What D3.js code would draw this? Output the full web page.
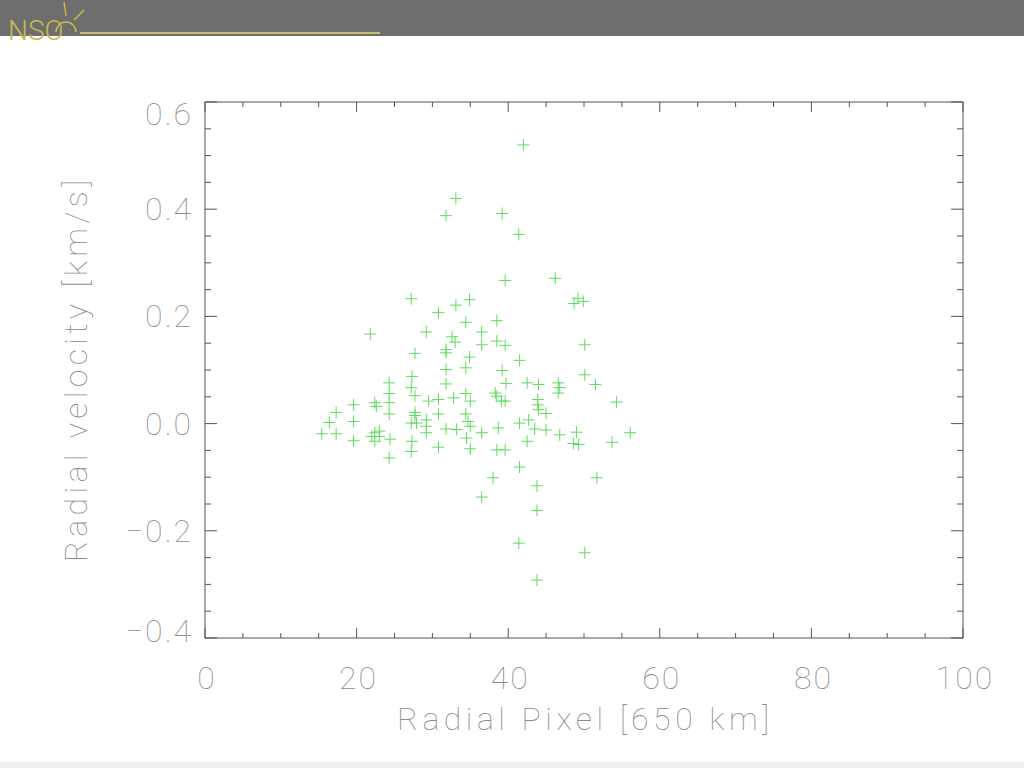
<!DOCTYPE html>
<html><head><meta charset="utf-8">
<script src="https://cdn.jsdelivr.net/npm/d3@7"></script>
<style>body{margin:0;background:#fff}svg{display:block}</style>
</head><body>
<svg id="c" width="1024" height="768"></svg>
<script>
// Data
const radialPixel = [42.0,33.1,31.8,39.2,41.4,39.6,46.2,27.2,34.9,33.1,30.8,34.4,21.8,29.2,32.6,33.0,27.7,31.8,31.8,34.9,34.4,31.8,27.3,
  49.2,49.9,48.7,38.5,36.5,36.5,38.5,39.6,50.1,41.5,39.2,50.1,
  24.3,27.2,31.8,24.3,27.7,29.5,30.8,32.8,34.4,35.0,19.6,22.4,22.6,24.3,17.3,24.3,27.7,27.7,30.8,34.4,16.4,19.6,27.2,27.9,29.2,29.2,34.7,35.0,31.8,33.2,
  15.4,17.3,22.4,23.0,22.0,23.0,24.4,29.2,34.5,19.6,22.4,27.3,30.8,35.0,27.2,24.3,
  39.7,42.5,44.0,46.6,46.8,46.6,51.5,38.3,38.5,39.1,39.6,43.9,43.9,54.3,45.0,44.0,41.5,42.7,38.7,43.5,45.0,36.5,46.8,49.0,56.1,42.5,48.6,49.3,53.7,38.5,39.6,41.5,
  38.0,43.8,51.7,36.5,43.8,41.4,50.1,43.8];
const radialVelocity = [0.52,0.42,0.388,0.392,0.353,0.267,0.271,0.233,0.231,0.221,0.207,0.189,0.167,0.171,0.162,0.152,0.131,0.138,0.132,0.124,0.104,0.101,0.088,
  0.234,0.228,0.224,0.192,0.171,0.147,0.154,0.146,0.147,0.118,0.099,0.091,
  0.076,0.067,0.074,0.056,0.052,0.042,0.045,0.048,0.056,0.042,0.035,0.039,0.032,0.039,0.021,0.018,0.021,0.015,0.018,0.018,0.002,0.004,0.001,0.001,0.007,-0.005,0.004,-0.005,-0.010,-0.011,
  -0.019,-0.019,-0.017,-0.014,-0.024,-0.024,-0.029,-0.017,-0.027,-0.032,-0.033,-0.033,-0.044,-0.047,-0.052,-0.064,
  0.075,0.076,0.073,0.076,0.067,0.057,0.073,0.057,0.051,0.042,0.042,0.045,0.035,0.040,0.019,0.026,0.001,0.007,-0.008,-0.010,-0.012,-0.017,-0.021,-0.016,-0.017,-0.033,-0.037,-0.039,-0.035,-0.049,-0.049,-0.081,
  -0.101,-0.116,-0.101,-0.137,-0.162,-0.223,-0.241,-0.292];
const xTicks = [0,20,40,60,80,100];
const yTicks = [-0.4,-0.2,0.0,0.2,0.4,0.6];
const xTitle = "Radial Pixel [650 km]";
const yTitle = "Radial velocity [km/s]";

const svg = d3.select("#c");
const L=205,R=963,T=102,B=638;
const x = d3.scaleLinear().domain([0,100]).range([L,R]);
const y = d3.scaleLinear().domain([-0.4,0.6]).range([B,T]);
const axisCol="#555", textCol="#8c8c8c";
const font="Roboto, 'DejaVu Sans', sans-serif";

// header band
svg.append("rect").attr("x",0).attr("y",0).attr("width",1024).attr("height",36).attr("fill","#6e6e6e");
svg.append("line").attr("x1",80).attr("x2",380).attr("y1",33).attr("y2",33).attr("stroke","#c8c070").attr("stroke-width",2);
svg.append("text").attr("x",8).attr("y",40).attr("fill","#c8b850").attr("font-family",font).attr("font-size",28).attr("font-weight",300).text("NSO");
svg.append("path").attr("d","M56,32 A10,10 0 1,1 76,32").attr("fill","none").attr("stroke","#c8b850").attr("stroke-width",1.5);
svg.append("path").attr("d","M64,2 L66,16 M84,10 L74,20").attr("fill","none").attr("stroke","#c8b850").attr("stroke-width",1.5);
svg.append("rect").attr("x",0).attr("y",762).attr("width",1024).attr("height",6).attr("fill","#f0f0f0");

// frame
svg.append("rect").attr("x",L).attr("y",T).attr("width",R-L).attr("height",B-T).attr("fill","none").attr("stroke",axisCol).attr("stroke-width",1);

// ticks (IDL style, inside, all four sides)
const xMinor = d3.range(0,101,5), yMinor = d3.range(-8,13).map(d=>d*0.05);
const tk = svg.append("g").attr("stroke",axisCol).attr("stroke-width",1);
xMinor.forEach(v=>{const len = xTicks.includes(v)?10:5;
  tk.append("line").attr("x1",x(v)).attr("x2",x(v)).attr("y1",B).attr("y2",B-len);
  tk.append("line").attr("x1",x(v)).attr("x2",x(v)).attr("y1",T).attr("y2",T+len);});
yMinor.forEach(v=>{const major = yTicks.some(t=>Math.abs(t-v)<1e-6); const len = major?12:6;
  tk.append("line").attr("x1",L).attr("x2",L+len).attr("y1",y(v)).attr("y2",y(v));
  tk.append("line").attr("x1",R).attr("x2",R-len).attr("y1",y(v)).attr("y2",y(v));});

// axis labels
const fmtY = v => (v<0?"\u2212":"") + Math.abs(v).toFixed(1);
svg.append("g").selectAll("text").data(xTicks).join("text")
  .attr("x",d=>x(d)+2).attr("y",689).attr("text-anchor","middle")
  .attr("font-family",font).attr("font-weight",100).attr("font-size",32).attr("fill",textCol).attr("letter-spacing",2).text(d=>d);
svg.append("g").selectAll("text").data(yTicks).join("text")
  .attr("x",193).attr("y",d=>y(d)+11+(d>0.55?12:0)+(d<-0.35?-7:0)).attr("text-anchor","end")
  .attr("font-family",font).attr("font-weight",100).attr("font-size",32).attr("fill",textCol).attr("letter-spacing",2).text(fmtY);

svg.append("text").attr("x",583).attr("y",730).attr("text-anchor","middle")
  .attr("font-family",font).attr("font-weight",100).attr("font-size",32).attr("fill",textCol)
  .attr("textLength",372).attr("lengthAdjust","spacing").text(xTitle);
svg.append("text").attr("transform","translate(87,371) rotate(-90)").attr("text-anchor","middle")
  .attr("font-family",font).attr("font-weight",100).attr("font-size",32).attr("fill",textCol)
  .attr("textLength",382).attr("lengthAdjust","spacing").text(yTitle);

// points as plus symbols
const pts = radialPixel.map((d,i)=>[d,radialVelocity[i]]);
const s=6;
svg.append("g").attr("stroke","#5fdc5f").attr("stroke-width",1).selectAll("path").data(pts).join("path")
  .attr("d",d=>{const px=x(d[0]),py=y(d[1]);return `M${px-s},${py}H${px+s}M${px},${py-s}V${py+s}`;});
</script>
</body></html>
